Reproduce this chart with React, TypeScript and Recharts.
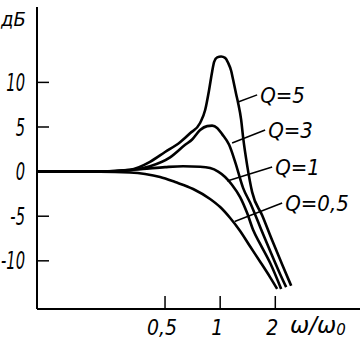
import React from 'react';
import { LineChart, Line, XAxis, YAxis, ReferenceLine, ReferenceDot } from 'recharts';

// Frequency (ω/ω0) and gain (dB), per curve
const q5Omega = [0.1, 0.221, 0.322, 0.414, 0.5, 0.604, 0.685, 0.777, 0.828, 0.87, 0.904, 0.927, 0.963, 1.012, 1.064, 1.105, 1.148, 1.177, 1.222, 1.253, 1.302, 1.335, 1.404, 1.495, 1.695, 1.922, 2.18, 2.442];
const q5Db = [0, 0, 0.2, 1.1, 2.2, 3.3, 4.3, 5.45, 6.9, 9.15, 11.2, 12.3, 12.8, 12.9, 12.75, 12.2, 11.3, 10.3, 8.7, 7.7, 5.8, 3.8, 0.7, -2.3, -4.9, -7.7, -10.4, -12.8];

const q3Omega = [0.1, 0.221, 0.322, 0.414, 0.533, 0.644, 0.703, 0.777, 0.849, 0.904, 0.963, 1.025, 1.119, 1.207, 1.335, 1.458, 1.653, 1.875, 2.126, 2.293];
const q3Db = [0, 0, 0.15, 0.6, 1.6, 3.0, 3.6, 4.66, 5.1, 5.15, 4.9, 4.2, 3.0, 1.1, -1.85, -3.5, -6.2, -8.9, -11.5, -12.95];

const q1Omega = [0.1, 0.221, 0.379, 0.5, 0.628, 0.777, 0.881, 0.975, 1.064, 1.162, 1.285, 1.404, 1.514, 1.653, 1.875, 2.153];
const q1Db = [0, 0, 0.3, 0.5, 0.6, 0.55, 0.4, 0, -0.6, -1.5, -2.85, -4.65, -6.55, -8.1, -10.25, -13.15];

const q05Omega = [0.1, 0.221, 0.322, 0.389, 0.47, 0.568, 0.712, 0.881, 1.0, 1.134, 1.285, 1.458, 1.653, 1.875, 2.048];
const q05Db = [0, 0, -0.1, -0.27, -0.6, -1.17, -1.95, -3.07, -3.97, -5.2, -6.66, -8.4, -10.1, -11.85, -13.15];

// Curve labels with leader lines: start (ω, dB) and end (ω, dB)
const curveLabels = ['Q=5', 'Q=3', 'Q=1', 'Q=0,5'];
const leaderStartOmega = [1.253, 1.162, 1.092, 1.2];
const leaderStartDb = [7.8, 3.2, -1.05, -5.6];
const leaderEndOmega = [1.592, 1.76, 1.922, 2.18];
const leaderEndDb = [8.6, 4.66, 0.52, -3.52];

const xTicks = [0.5, 1, 2];
const yTicks = [-10, -5, 0, 5, 10];

const toRows = (w: number[], d: number[]) => w.map((v, i) => ({ w: v, db: d[i] }));
const series = [
  { name: 'Q=5', rows: toRows(q5Omega, q5Db) },
  { name: 'Q=3', rows: toRows(q3Omega, q3Db) },
  { name: 'Q=1', rows: toRows(q1Omega, q1Db) },
  { name: 'Q=0,5', rows: toRows(q05Omega, q05Db) },
];

const NARROW = '"Liberation Sans Narrow", "DejaVu Sans Condensed", sans-serif';
const COND = '"DejaVu Sans Condensed", "DejaVu Sans", sans-serif';

const YTick = (props: any) => {
  const { x, y, payload } = props;
  const v = payload.value as number;
  const txt = v < 0 ? `-${Math.abs(v)}` : `${v}`;
  return (
    <g>
      <line x1={x} y1={y} x2={x + 12} y2={y} stroke="#000" strokeWidth={1.5} />
      <text
        transform={`translate(${x - 12} ${y}) scale(0.68 1)`}
        dy="0.36em"
        textAnchor="end"
        fontFamily={NARROW}
        fontStyle="italic"
        fontSize={24}
        fill="#000"
      >
        {txt}
      </text>
    </g>
  );
};

const XTick = (props: any) => {
  const { x, y, payload } = props;
  const txt = String(payload.value).replace('.', ',');
  return (
    <g>
      <line x1={x} y1={y} x2={x} y2={y - 13} stroke="#000" strokeWidth={1.5} />
      <text x={x - 3} y={y + 26} textAnchor="middle" fontFamily={NARROW} fontStyle="italic" fontSize={21} fill="#000">
        {txt}
      </text>
    </g>
  );
};

export default function App() {
  return (
    <div style={{ position: 'absolute', left: 0, top: 0, background: '#fff' }}>
      <LineChart width={360} height={340} margin={{ top: 7, right: 0, bottom: 0, left: 0 }}>
        <XAxis
          type="number"
          dataKey="w"
          scale="log"
          domain={[0.1, 5.8]}
          allowDataOverflow
          ticks={xTicks}
          height={31}
          tickSize={0}
          tickMargin={0}
          tickLine={false}
          axisLine={{ stroke: '#000', strokeWidth: 2 }}
          tick={<XTick />}
          label={{
            content: () => (
              <text x={290} y={333} fontFamily='"DejaVu Sans", sans-serif' fontStyle="italic" fontSize={23} fill="#000">
                ω/ω<tspan fontSize={15} dy={2}>0</tspan>
              </text>
            ),
          }}
        />
        <YAxis
          type="number"
          domain={[-15.4, 18.45]}
          allowDataOverflow
          ticks={yTicks}
          width={37}
          tickSize={0}
          tickMargin={0}
          tickLine={false}
          axisLine={{ stroke: '#000', strokeWidth: 2 }}
          tick={<YTick />}
          label={{
            content: () => (
              <text x={1} y={26} fontFamily={COND} fontStyle="italic" fontSize={20} fill="#000">
                дБ
              </text>
            ),
          }}
        />
        {series.map((s) => (
          <Line
            key={s.name}
            data={s.rows}
            dataKey="db"
            type="monotone"
            stroke="#000"
            strokeWidth={2.6}
            dot={false}
            isAnimationActive={false}
          />
        ))}
        {curveLabels.map((lab, i) => (
          <ReferenceLine
            key={`l${i}`}
            segment={[
              { x: leaderStartOmega[i], y: leaderStartDb[i] },
              { x: leaderEndOmega[i], y: leaderEndDb[i] },
            ]}
            stroke="#000"
            strokeWidth={1.5}
            ifOverflow="visible"
          />
        ))}
        {curveLabels.map((lab, i) => (
          <ReferenceDot
            key={`d${i}`}
            x={leaderEndOmega[i]}
            y={leaderEndDb[i]}
            r={0}
            stroke="none"
            fill="none"
            ifOverflow="visible"
            label={{
              value: lab,
              position: 'right',
              offset: 3,
              fill: '#000',
              fontSize: 22,
              fontFamily: COND,
              fontStyle: 'italic',
            }}
          />
        ))}
      </LineChart>
    </div>
  );
}
